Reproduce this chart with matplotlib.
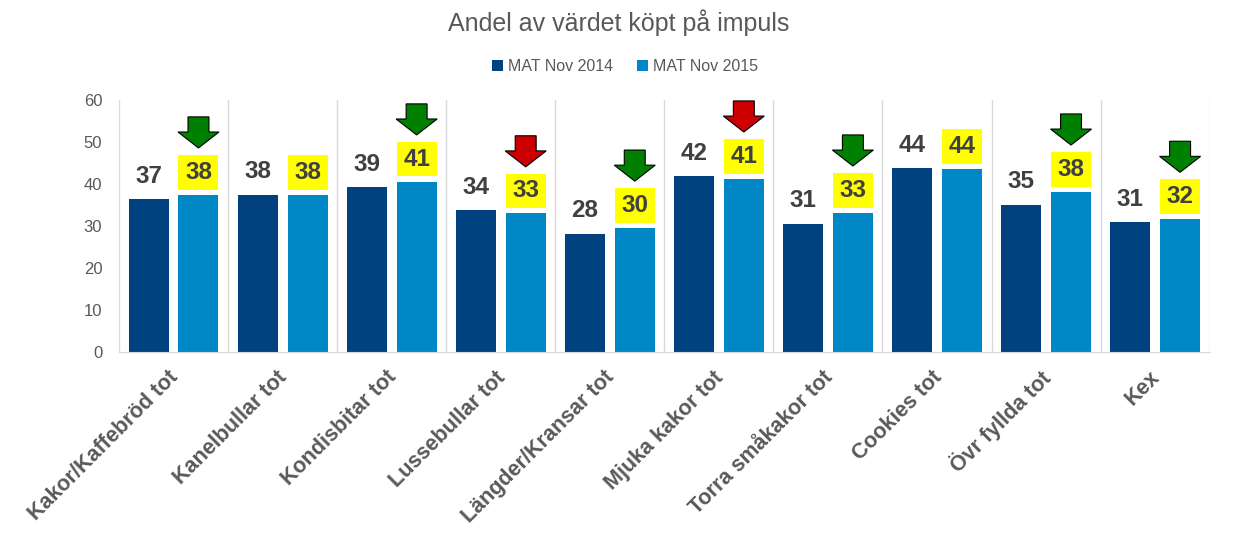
import matplotlib.pyplot as plt
import matplotlib.transforms as mtransforms
import numpy as np
from matplotlib.patches import Polygon, Rectangle

plt.rcParams['font.family'] = ['Liberation Sans', 'DejaVu Sans']

# data
categories = ['Kakor/Kaffebröd tot', 'Kanelbullar tot', 'Kondisbitar tot', 'Lussebullar tot',
              'Längder/Kransar tot', 'Mjuka kakor tot', 'Torra småkakor tot', 'Cookies tot',
              'Övr fyllda tot', 'Kex']
mat2014 = [36.5, 37.5, 39.2, 33.7, 28.2, 41.8, 30.6, 43.9, 35.1, 31.0]
mat2015 = [37.5, 37.5, 40.6, 33.0, 29.6, 41.3, 33.2, 43.6, 38.2, 31.7]
labels2014 = ['37', '38', '39', '34', '28', '42', '31', '44', '35', '31']
labels2015 = ['38', '38', '41', '33', '30', '41', '33', '44', '38', '32']
# arrow per category: 'g' green, 'r' red, None no arrow
arrows = ['g', None, 'g', 'r', 'g', 'r', 'g', None, 'g', 'g']

dark = '#00427F'
light = '#0087C6'
grey = '#595959'

fig = plt.figure(figsize=(12.38, 5.44), dpi=100)
ax = fig.add_axes([0.0961, 0.353, 0.881, 0.463])

x = np.arange(len(categories))
w = 0.367
off = 0.229
ax.bar(x - off, mat2014, w, color=dark, label='MAT Nov 2014', zorder=2)
ax.bar(x + off, mat2015, w, color=light, label='MAT Nov 2015', zorder=2)

for i in range(len(categories)):
    ax.text(x[i] - off, mat2014[i] + 5.4, labels2014[i], ha='center', va='center',
            fontsize=17.5, fontweight='bold', color='#404040')
    # yellow label box
    ax.add_patch(Rectangle((x[i] + off - w / 2, mat2015[i] + 1.2), w, 8.3, fc='yellow', ec='none', zorder=3))
    ax.text(x[i] + off, mat2015[i] + 5.35, labels2015[i], ha='center', va='center',
            fontsize=17.5, fontweight='bold', color='#404040', zorder=4)
    if arrows[i]:
        c = '#008000' if arrows[i] == 'g' else '#CC0000'
        cx = x[i] + off
        tip = mat2015[i] + 11.1
        hw, sw, hh, th = 0.188, 0.096, 3.8, 7.4
        pts = [(cx, tip), (cx - hw, tip + hh), (cx - sw, tip + hh), (cx - sw, tip + th),
               (cx + sw, tip + th), (cx + sw, tip + hh), (cx + hw, tip + hh)]
        ax.add_patch(Polygon(pts, closed=True, fc=c, ec='black', lw=0.8, zorder=3, clip_on=False))

# category separators
for b in np.arange(len(categories) + 1) - 0.5:
    ax.axvline(b, color='#D9D9D9', lw=1, zorder=1)

ax.set_xlim(-0.5, len(categories) - 0.5)
ax.set_ylim(0, 60)
ax.set_yticks(range(0, 61, 10))
for s in ['top', 'right', 'left']:
    ax.spines[s].set_visible(False)
ax.spines['bottom'].set_color('#D9D9D9')
ax.tick_params(axis='both', length=0, colors=grey)
ax.tick_params(axis='y', labelsize=12, pad=12)
ax.set_xticks(x)
ax.set_xticklabels(categories, rotation=45, ha='right', va='center', rotation_mode='anchor',
                   fontsize=15.5, fontweight='bold', color=grey)
ax.tick_params(axis='x', pad=14)
shift = mtransforms.ScaledTranslation(0.015, -0.03, fig.dpi_scale_trans)
for lbl in ax.get_xticklabels():
    lbl.set_transform(lbl.get_transform() + shift)

fig.text(0.5, 0.958, 'Andel av värdet köpt på impuls', ha='center', va='center', fontsize=18, color=grey)
fig.legend(loc='center', bbox_to_anchor=(0.505, 0.877), ncol=2, frameon=False, fontsize=11.5,
           labelcolor=grey, handlelength=0.7, handleheight=0.7, handletextpad=0.3, columnspacing=1.5)

plt.savefig('out.png', dpi=100)
